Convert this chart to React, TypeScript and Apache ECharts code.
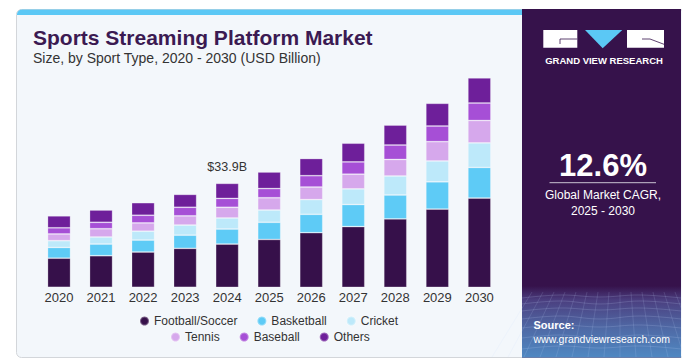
import React, { useEffect, useRef } from "react";
import * as echarts from "echarts";

const years = ["2020", "2021", "2022", "2023", "2024", "2025", "2026", "2027", "2028", "2029", "2030"];
const seriesNames = ["Football/Soccer", "Basketball", "Cricket", "Tennis", "Baseball", "Others"];
const football = [9.5, 10.3, 11.5, 12.7, 14.1, 15.6, 17.8, 19.8, 22.3, 25.5, 29.1];
const basketball = [3.5, 3.8, 3.9, 4.3, 4.9, 5.6, 6.0, 7.2, 7.8, 8.9, 10.0];
const cricket = [2.2, 2.3, 2.9, 3.3, 3.6, 4.0, 4.8, 5.1, 6.2, 6.8, 8.0];
const tennis = [2.2, 2.7, 2.7, 3.0, 3.5, 4.0, 4.1, 4.8, 5.4, 6.3, 7.3];
const baseball = [2.0, 2.1, 2.5, 2.8, 2.9, 3.0, 3.7, 4.0, 4.7, 5.1, 5.7];
const others = [3.9, 4.0, 4.1, 4.2, 4.9, 5.4, 5.6, 6.1, 6.5, 7.4, 8.2];
const seriesValues = [football, basketball, cricket, tennis, baseball, others];
const colors = ["#36104a", "#5ecbf6", "#bde9fa", "#d6a8ec", "#a64fd6", "#6e1f9a"];
const highlightIndex = 4;
const highlightLabel = "$33.9B";
const cagrText = "12.6%";

const FONT = "'Liberation Sans', Arial, sans-serif";

function meshLines() {
  const els: any[] = [];
  const x0 = 522, x1 = 681, y0 = 292, y1 = 357;
  const rows = [296, 302, 309, 317, 326, 336, 347];
  rows.forEach((y, i) => {
    els.push({
      type: "polyline",
      silent: true,
      shape: { points: [[x0, y + 2], [560, y - 1], [600, y + 1 + (i % 2)], [640, y - 1], [x1, y + 2]], smooth: 0.4 },
      style: { stroke: "rgba(200,220,255,0.22)", lineWidth: 0.8, fill: null },
    });
  });
  for (let k = 0; k < 14; k++) {
    const xb = x0 - 30 + k * 16;
    const xt = x0 + 10 + k * 11;
    els.push({
      type: "line",
      silent: true,
      shape: { x1: xt, y1: y0, x2: xb, y2: y1 },
      style: { stroke: "rgba(200,220,255,0.18)", lineWidth: 0.8 },
    });
  }
  return els;
}

export default function App() {
  const ref = useRef<HTMLDivElement>(null);
  useEffect(() => {
    document.body.style.margin = "0";
    if (!ref.current) return;
    const chart = echarts.init(ref.current, undefined, { renderer: "svg" });
    const series = seriesNames.map((name, si) => ({
      name,
      type: "bar",
      stack: "total",
      barWidth: 23,
      itemStyle: { color: colors[si], borderColor: "rgba(255,255,255,0.32)", borderWidth: 0.8 },
      data: seriesValues[si].map((v, i) =>
        si === seriesNames.length - 1 && i === highlightIndex
          ? {
              value: v,
              label: {
                show: true,
                position: "top",
                distance: 10,
                formatter: highlightLabel,
                fontSize: 12.5,
                color: "#333",
                fontFamily: FONT,
              },
            }
          : v
      ),
    }));

    const option: any = {
      animation: false,
      backgroundColor: "#ffffff",
      grid: { left: 38, right: 181.6, top: 42, bottom: 75.7, containLabel: false },
      xAxis: {
        type: "category",
        data: years,
        axisLine: { show: false },
        axisTick: { show: false },
        axisLabel: { fontSize: 13, color: "#333", margin: 4, fontFamily: FONT },
      },
      yAxis: { type: "value", min: 0, max: 80, show: false, splitLine: { show: false } },
      legend: [
        {
          data: seriesNames.slice(0, 3),
          left: 139,
          top: 315,
          padding: 0,
          itemWidth: 9,
          itemHeight: 9,
          itemGap: 19,
          icon: "circle",
          textStyle: { fontSize: 12, color: "#333", fontFamily: FONT },
        },
        {
          data: seriesNames.slice(3),
          left: 170,
          top: 331,
          padding: 0,
          itemWidth: 9,
          itemHeight: 9,
          itemGap: 19,
          icon: "circle",
          textStyle: { fontSize: 12, color: "#333", fontFamily: FONT },
        },
      ],
      graphic: [
        {
          type: "rect",
          z: -10,
          silent: true,
          shape: { x: 16.5, y: 9.5, width: 668, height: 348, r: 5 },
          style: { fill: "#f3f7fb", stroke: "#d3d6da", lineWidth: 1 },
        },
        {
          type: "rect",
          z: -9,
          silent: true,
          shape: { x: 17, y: 9.5, width: 505, height: 5.5, r: [5, 0, 0, 0] },
          style: { fill: "#5bc8f5" },
        },
        {
          type: "rect",
          z: -9,
          silent: true,
          shape: { x: 522, y: 9, width: 159, height: 348.5 },
          style: { fill: "#36124b" },
        },
        {
          type: "rect",
          z: -8,
          silent: true,
          shape: { x: 522, y: 286, width: 159, height: 71.5 },
          style: {
            fill: new echarts.graphic.LinearGradient(0, 0, 0, 1, [
              { offset: 0, color: "#36124b" },
              { offset: 0.2, color: "#4b3f80" },
              { offset: 0.6, color: "#4f6aa6" },
              { offset: 1, color: "#4f88c2" },
            ]),
          },
        },
        ...meshLines().map((e) => ({ ...e, z: -7 })),
        {
          type: "text",
          left: 33,
          top: 27,
          style: { text: "Sports Streaming Platform Market", fontSize: 21, fontWeight: 900, fill: "#3b1a52", fontFamily: FONT },
        },
        {
          type: "text",
          left: 33,
          top: 51,
          style: { text: "Size, by Sport Type, 2020 - 2030 (USD Billion)", fontSize: 14, fill: "#333", fontFamily: FONT },
        },
        // logo
        { type: "rect", silent: true, shape: { x: 543.3, y: 30, width: 34, height: 17.7 }, style: { fill: "#ffffff" } },
        { type: "polyline", silent: true, shape: { points: [[577.3, 39], [560, 39], [560, 44]] }, style: { stroke: "#36124b", lineWidth: 0.8, fill: null } },
        { type: "polygon", silent: true, shape: { points: [[585, 30], [622.3, 30], [602.7, 48.3]] }, style: { fill: "#5bc8f5" } },
        { type: "rect", silent: true, shape: { x: 627, y: 30, width: 37, height: 17.7 }, style: { fill: "#ffffff" } },
        { type: "polyline", silent: true, shape: { points: [[642, 39], [650, 39], [664, 44.3]] }, style: { stroke: "#36124b", lineWidth: 0.8, fill: null } },
        {
          type: "text",
          x: 604,
          y: 60,
          style: { text: "GRAND VIEW RESEARCH", fontSize: 9.5, fontWeight: "bold", fill: "#ffffff", align: "center", verticalAlign: "middle", fontFamily: FONT },
        },
        {
          type: "text",
          x: 603,
          y: 165,
          style: { text: cagrText, fontSize: 31, fontWeight: "bold", fill: "#ffffff", align: "center", verticalAlign: "middle", fontFamily: FONT },
        },
        { type: "line", silent: true, shape: { x1: 549.5, y1: 182.7, x2: 656, y2: 182.7 }, style: { stroke: "#c9c2d2", lineWidth: 1 } },
        {
          type: "text",
          x: 603,
          y: 195,
          style: { text: "Global Market CAGR,", fontSize: 12, fill: "#ffffff", align: "center", verticalAlign: "middle", fontFamily: FONT },
        },
        {
          type: "text",
          x: 603,
          y: 210.5,
          style: { text: "2025 - 2030", fontSize: 12, fill: "#ffffff", align: "center", verticalAlign: "middle", fontFamily: FONT },
        },
        {
          type: "text",
          x: 533.5,
          y: 325,
          style: { text: "Source:", fontSize: 11, fontWeight: "bold", fill: "#ffffff", verticalAlign: "middle", fontFamily: FONT },
        },
        {
          type: "text",
          x: 533.5,
          y: 338.5,
          style: { text: "www.grandviewresearch.com", fontSize: 10.5, fill: "#ffffff", verticalAlign: "middle", fontFamily: FONT },
        },
      ],
      series,
    };
    chart.setOption(option);
    return () => chart.dispose();
  }, []);
  return <div ref={ref} style={{ width: 682, height: 363 }} />;
}
